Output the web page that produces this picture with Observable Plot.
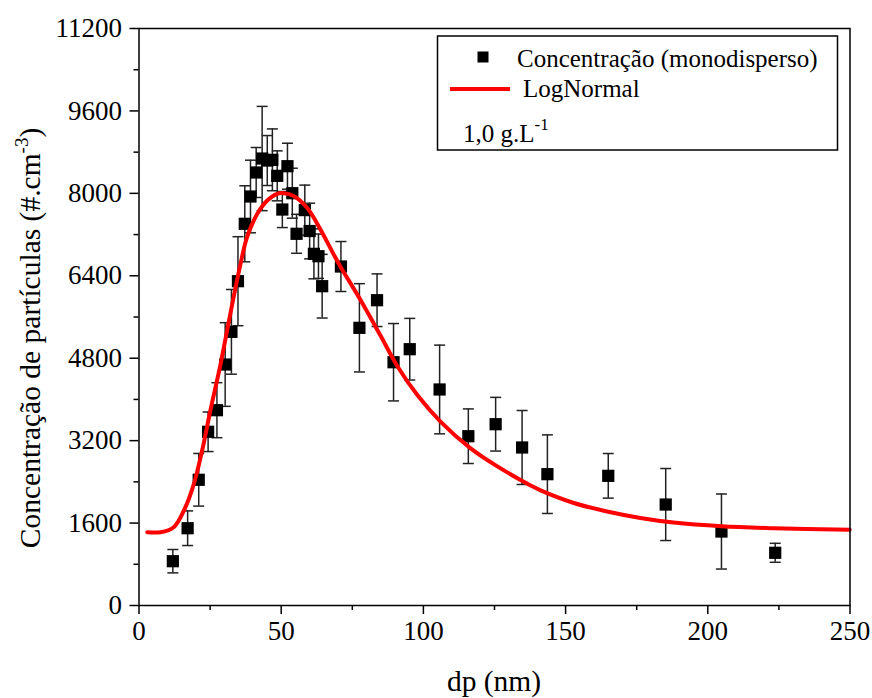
<!DOCTYPE html>
<html>
<head>
<meta charset="utf-8">
<script src="https://cdn.jsdelivr.net/npm/d3@7"></script>
<script src="https://cdn.jsdelivr.net/npm/@observablehq/plot@0.6"></script>
<style>
  html, body { margin: 0; padding: 0; background: #fff; }
  #chart { width: 872px; height: 698px; }
  svg { font-family: "Liberation Serif", "Times New Roman", serif; }
</style>
</head>
<body>
<div id="chart"></div>
<script>
// Measured particle concentration (monodisperse), dp in nm
const dp   = [11.9, 17.1, 21.0, 24.3, 27.4, 30.3, 32.5, 34.8, 37.2, 39.2, 41.2, 43.3, 45.1, 46.9, 48.6, 50.4, 52.2, 53.9, 55.4, 58.3, 60.0, 61.5, 63.1, 64.4, 71.0, 77.5, 83.7, 89.5, 95.2, 105.7, 115.8, 125.4, 134.7, 143.6, 165.0, 185.2, 204.8, 223.7];
const conc = [860, 1500, 2440, 3372, 3791, 4678, 5312, 6295, 7409, 7939, 8405, 8676, 8637, 8651, 8340, 7686, 8527, 8003, 7215, 7675, 7269, 6826, 6780, 6198, 6580, 5390, 5926, 4722, 4975, 4193, 3286, 3519, 3067, 2549, 2517, 1960, 1436, 1023];
const err  = [227, 336, 511, 384, 534, 812, 822, 864, 738, 705, 485, 1012, 485, 600, 485, 350, 446, 485, 378, 485, 540, 485, 430, 618, 485, 857, 511, 751, 598, 861, 530, 521, 718, 763, 433, 699, 728, 184];

// LogNormal fit curve
const fitX = [2.9, 7.6, 12.2, 15.8, 19.3, 22.2, 25.1, 28.7, 32.2, 35.7, 38.0, 41.6, 45.1, 48.6, 50.9, 54.4, 59.1, 63.8, 68.5, 70.9, 77.9, 85.0, 90.8, 97.8, 106.0, 116.6, 126.0, 137.7, 141.2, 152.9, 164.6, 176.3, 188.0, 204.8, 223.2, 249.9];
const fitY = [1423, 1423, 1520, 1844, 2362, 3009, 3785, 4691, 5687, 6632, 7149, 7603, 7861, 7991, 8003, 7950, 7720, 7300, 6810, 6570, 5930, 5230, 4650, 4090, 3570, 3050, 2700, 2330, 2235, 1990, 1825, 1700, 1611, 1539, 1500, 1469];

const xMajor = [0, 50, 100, 150, 200, 250];
const xMinor = [25, 75, 125, 175, 225];
const yMajor = [0, 1600, 3200, 4800, 6400, 8000, 9600, 11200];
const yMinor = [800, 2400, 4000, 5600, 7200, 8800, 10400];

const points = dp.map((x, i) => ({x, y: conc[i], e: err[i]}));
const fit = fitX.map((x, i) => ({x, y: fitY[i]}));

const capSymbol = {
  draw(ctx, size) {
    const w = Math.sqrt(size / Math.PI);
    ctx.moveTo(-w, 0);
    ctx.lineTo(w, 0);
  }
};

const FONT = "Liberation Serif";

const svg = Plot.plot({
  width: 872,
  height: 698,
  marginLeft: 138.5,
  marginRight: 22.5,
  marginTop: 28,
  marginBottom: 93,
  style: {fontFamily: FONT, fontSize: "27px", color: "#000", background: "#fff"},
  x: {domain: [0, 250], label: null},
  y: {domain: [0, 11200], label: null},
  marks: [
    Plot.axisX({ticks: xMajor, tickSize: 9, tickPadding: 6, strokeWidth: 1.5, fontSize: 27, tickFormat: d => String(d), label: null}),
    Plot.axisX({ticks: xMinor, tickSize: 5, strokeWidth: 1.5, tickFormat: () => "", label: null}),
    Plot.axisY({ticks: yMajor, tickSize: 9, tickPadding: 8, strokeWidth: 1.5, fontSize: 27, tickFormat: d => String(d), label: null}),
    Plot.axisY({ticks: yMinor, tickSize: 5, strokeWidth: 1.5, tickFormat: () => "", label: null}),
    Plot.ruleX(points, {x: "x", y1: d => d.y - d.e, y2: d => d.y + d.e, stroke: "#222", strokeWidth: 1.5}),
    Plot.dot(points, {x: "x", y: d => d.y + d.e, symbol: capSymbol, r: 5.5, stroke: "#222", strokeWidth: 1.5, fill: "none"}),
    Plot.dot(points, {x: "x", y: d => d.y - d.e, symbol: capSymbol, r: 5.5, stroke: "#222", strokeWidth: 1.5, fill: "none"}),
    Plot.dot(points, {x: "x", y: "y", symbol: "square", r: 6.9, fill: "#000", stroke: "none"}),
    Plot.line(fit, {x: "x", y: "y", stroke: "#ff0000", strokeWidth: 4, curve: "catmull-rom"}),
    Plot.frame({stroke: "#000", strokeWidth: 1.5})
  ]
});

const s = d3.select(svg);

// Axis titles
s.append("text")
  .attr("x", 494).attr("y", 691)
  .attr("text-anchor", "middle")
  .attr("font-family", FONT).attr("font-size", 29.5).attr("fill", "#000")
  .text("dp (nm)");

const yl = s.append("text")
  .attr("transform", "translate(40,338) rotate(-90)")
  .attr("text-anchor", "middle")
  .attr("font-family", FONT).attr("font-size", 29.5).attr("fill", "#000");
yl.append("tspan").text("Concentração de partículas (#.cm");
yl.append("tspan").attr("font-size", 19).attr("dy", -12).text("-3");
yl.append("tspan").attr("dy", 12).text(")");

// Legend box
const lg = s.append("g").attr("font-family", FONT).attr("fill", "#000").attr("text-anchor", "start");
lg.append("rect").attr("x", 437.5).attr("y", 36).attr("width", 400).attr("height", 114)
  .attr("fill", "#fff").attr("stroke", "#000").attr("stroke-width", 1.5);
lg.append("rect").attr("x", 477.5).attr("y", 51.5).attr("width", 11).attr("height", 11).attr("fill", "#000");
lg.append("text").attr("x", 517).attr("y", 67).attr("font-size", 25).attr("text-anchor", "start").text("Concentração (monodisperso)");
lg.append("line").attr("x1", 450).attr("x2", 510).attr("y1", 89).attr("y2", 89)
  .attr("stroke", "#ff0000").attr("stroke-width", 4);
lg.append("text").attr("x", 523).attr("y", 97).attr("font-size", 25).attr("text-anchor", "start").text("LogNormal");
const t3 = lg.append("text").attr("x", 463).attr("y", 142).attr("font-size", 25).attr("text-anchor", "start");
t3.append("tspan").text("1,0 g.L");
t3.append("tspan").attr("font-size", 17).attr("dy", -12).text("-1");

document.getElementById("chart").appendChild(svg);
</script>
</body>
</html>
